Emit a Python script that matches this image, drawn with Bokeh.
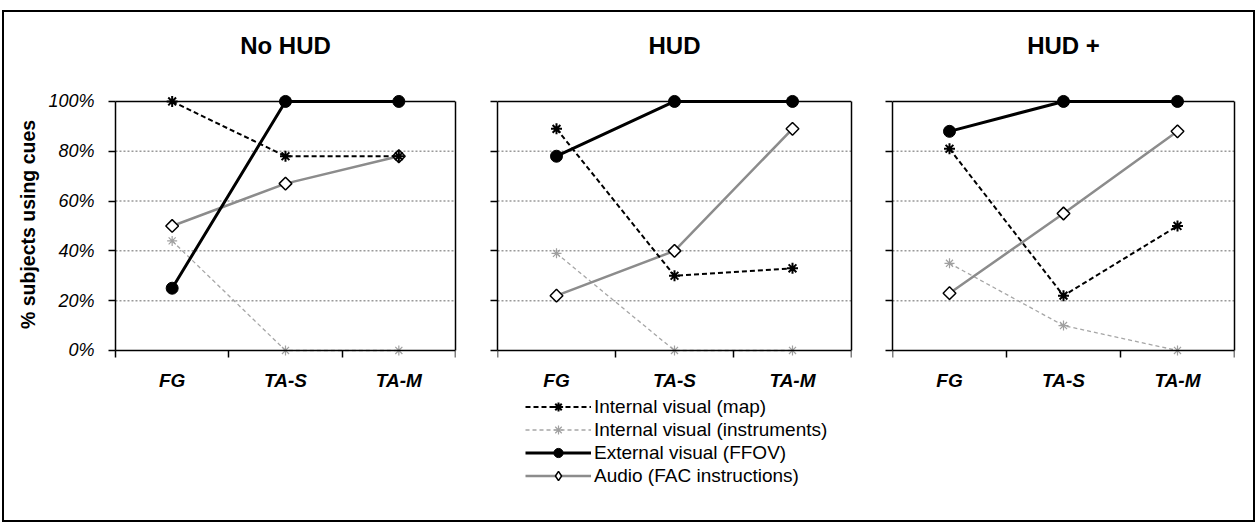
import math
from bokeh.plotting import figure
from bokeh.layouts import row
from bokeh.models import (Range1d, FixedTicker, PrintfTickFormatter, LinearAxis,
                          Label, Legend, LegendItem)
from bokeh.embed import file_html
from bokeh.resources import INLINE

# ---------------- data ----------------
categories = ["FG", "TA-S", "TA-M"]
panel_titles = ["No HUD", "HUD", "HUD +"]
series_names = ["Internal visual (map)", "Internal visual (instruments)",
                "External visual (FFOV)", "Audio (FAC instructions)"]
y_ticks = [0, 20, 40, 60, 80, 100]
y_axis_title = "% subjects using cues"

# No HUD
map_nohud = [100, 78, 78]
instr_nohud = [44, 0, 0]
ffov_nohud = [25, 100, 100]
audio_nohud = [50, 67, 78]
# HUD
map_hud = [89, 30, 33]
instr_hud = [39, 0, 0]
ffov_hud = [78, 100, 100]
audio_hud = [22, 40, 89]
# HUD +
map_hudplus = [81, 22, 50]
instr_hudplus = [35, 10, 0]
ffov_hudplus = [88, 100, 100]
audio_hudplus = [23, 55, 88]

panels_data = [
    {"map": map_nohud, "instr": instr_nohud, "ffov": ffov_nohud, "audio": audio_nohud},
    {"map": map_hud, "instr": instr_hud, "ffov": ffov_hud, "audio": audio_hud},
    {"map": map_hudplus, "instr": instr_hudplus, "ffov": ffov_hudplus, "audio": audio_hudplus},
]

FONT = "Liberation Sans"
xs = [i + 0.5 for i in range(len(categories))]
n_cat = len(categories)

# layout: (figure width, min_border_left, min_border_right, x_start)
# plotting frames reach beyond the drawn axes into blank space (same scale in all panels)
geom = [(472, 4, 21, -0.944), (396, 21, 21, 0.0), (381, 20, 19, 0.0)]
FIG_H = 508
BORDER_TOP = 10
BORDER_BOTTOM = 20
Y_START, Y_END = -60.24, 131.7
TITLE_Y = 122.5
YTITLE_X, YTITLE_Y = -0.768, 50.6


def make_panel(idx):
    width, bl, br, x_start = geom[idx]
    data = panels_data[idx]
    p = figure(width=width, height=FIG_H, x_range=Range1d(x_start, n_cat), y_range=Range1d(Y_START, Y_END),
               output_backend="svg", toolbar_location=None,
               min_border_left=bl, min_border_right=br,
               min_border_top=BORDER_TOP, min_border_bottom=BORDER_BOTTOM,
               background_fill_color="white", border_fill_color="white", outline_line_color=None)
    p.xgrid.visible = False
    p.ygrid.visible = False

    # x axis: labels at category centres, ticks at category boundaries, drawn at 0 %
    xa = p.xaxis[0]
    xa.ticker = FixedTicker(ticks=xs, minor_ticks=list(range(n_cat + 1)))
    xa.major_label_overrides = {x: c for x, c in zip(xs, categories)}
    xa.fixed_location = y_ticks[0]
    xa.bounds = (0, n_cat)
    xa.axis_line_color = "black"
    xa.axis_line_width = 1.5
    xa.major_tick_out = 0
    xa.major_tick_in = 0
    xa.minor_tick_out = 7
    xa.minor_tick_in = 0
    xa.minor_tick_line_color = "black"
    xa.minor_tick_line_width = 1.5
    xa.major_label_standoff = 13
    xa.major_label_text_font = FONT
    xa.major_label_text_font_size = "19px"
    xa.major_label_text_font_style = "bold italic"
    xa.major_label_text_color = "black"

    ya = p.yaxis[0]
    ya.bounds = (y_ticks[0], y_ticks[-1])
    ya.axis_line_color = "black"
    ya.axis_line_width = 1.5
    if idx == 0:
        ya.fixed_location = 0
        ya.ticker = FixedTicker(ticks=y_ticks, minor_ticks=[])
        ya.formatter = PrintfTickFormatter(format="%d%%")
        ya.major_tick_out = 7
        ya.major_tick_in = 0
        ya.major_tick_line_width = 1.5
        ya.major_label_text_font = FONT
        ya.major_label_text_font_size = "18px"
        ya.major_label_text_font_style = "italic"
        ya.major_label_text_color = "black"
        ya.major_label_standoff = 14
        p.add_layout(Label(x=YTITLE_X, y=YTITLE_Y, text=y_axis_title, angle=math.pi / 2,
                           text_align="center", text_baseline="middle", text_font=FONT,
                           text_font_size="19.5px", text_font_style="bold", text_color="black"))
    else:
        # ticks only, no labels: the tick marks are drawn as minor ticks
        ya.ticker = FixedTicker(ticks=[], minor_ticks=y_ticks)
        ya.minor_tick_out = 7
        ya.minor_tick_in = 0
        ya.minor_tick_line_color = "black"
        ya.minor_tick_line_width = 1.5

    # right frame border
    ra = LinearAxis(bounds=(y_ticks[0], y_ticks[-1]), ticker=FixedTicker(ticks=[], minor_ticks=[]),
                    axis_line_color="black", axis_line_width=1.5,
                    major_tick_line_color=None, minor_tick_line_color=None)
    p.add_layout(ra, "right")

    # horizontal gridlines and the top frame border (100 %)
    grid_ticks = y_ticks[1:-1]
    p.segment(x0=[0] * len(grid_ticks), x1=[n_cat] * len(grid_ticks), y0=grid_ticks, y1=grid_ticks,
              line_color="#9a9a9a", line_dash="2 2", line_width=1.5)
    p.segment(x0=[0], x1=[n_cat], y0=[y_ticks[-1]], y1=[y_ticks[-1]],
              line_color="black", line_width=1.5)

    rs = {}
    # instruments
    l = p.line(xs, data["instr"], line_color="#a6a6a6", line_width=1.3, line_dash="4 3")
    m = p.scatter(xs, data["instr"], marker="asterisk", size=10, line_color="#a0a0a0", line_width=1.2)
    rs["instr"] = [l, m]
    # audio
    l = p.line(xs, data["audio"], line_color="#8c8c8c", line_width=2.5)
    # diamond (used for the legend swatch), covered by the rotated-square marker
    d = p.scatter(xs, data["audio"], marker="diamond", size=11,
                  fill_color="white", line_color="black", line_width=1.5)
    m = p.scatter(xs, data["audio"], marker="square", angle=math.pi / 4, size=9,
                  fill_color="white", line_color="black", line_width=1.5)
    rs["audio"] = [l, d]
    # map
    l = p.line(xs, data["map"], line_color="black", line_width=2, line_dash="5 3")
    m = p.scatter(xs, data["map"], marker="asterisk", size=11, line_color="black", line_width=2)
    rs["map"] = [l, m]
    # ffov
    l = p.line(xs, data["ffov"], line_color="black", line_width=3)
    m = p.scatter(xs, data["ffov"], marker="circle", size=12, fill_color="black", line_color="black")
    rs["ffov"] = [l, m]

    p.add_layout(Label(x=n_cat / 2, y=TITLE_Y, text=panel_titles[idx], text_align="center",
                       text_baseline="middle", text_font=FONT, text_font_size="24px",
                       text_font_style="bold", text_color="black"))
    return p, rs


figs = []
all_rs = []
for i in range(3):
    f, r = make_panel(i)
    figs.append(f)
    all_rs.append(r)

keys = ["map", "instr", "ffov", "audio"]
items = [LegendItem(label=name, renderers=all_rs[1][k]) for name, k in zip(series_names, keys)]
legend = Legend(items=items, location=(28, 13), orientation="vertical",
                border_line_color=None, background_fill_alpha=0, padding=0, margin=0, spacing=0,
                glyph_width=66, glyph_height=23, label_height=23, label_standoff=3,
                label_text_font=FONT, label_text_font_size="19px", label_text_color="black")
figs[1].add_layout(legend)

layout = row(*figs, spacing=0,
             styles={"border": "2px solid black", "margin-top": "10px", "margin-left": "2px"})

open("out.html", "w").write(file_html(layout, INLINE))
